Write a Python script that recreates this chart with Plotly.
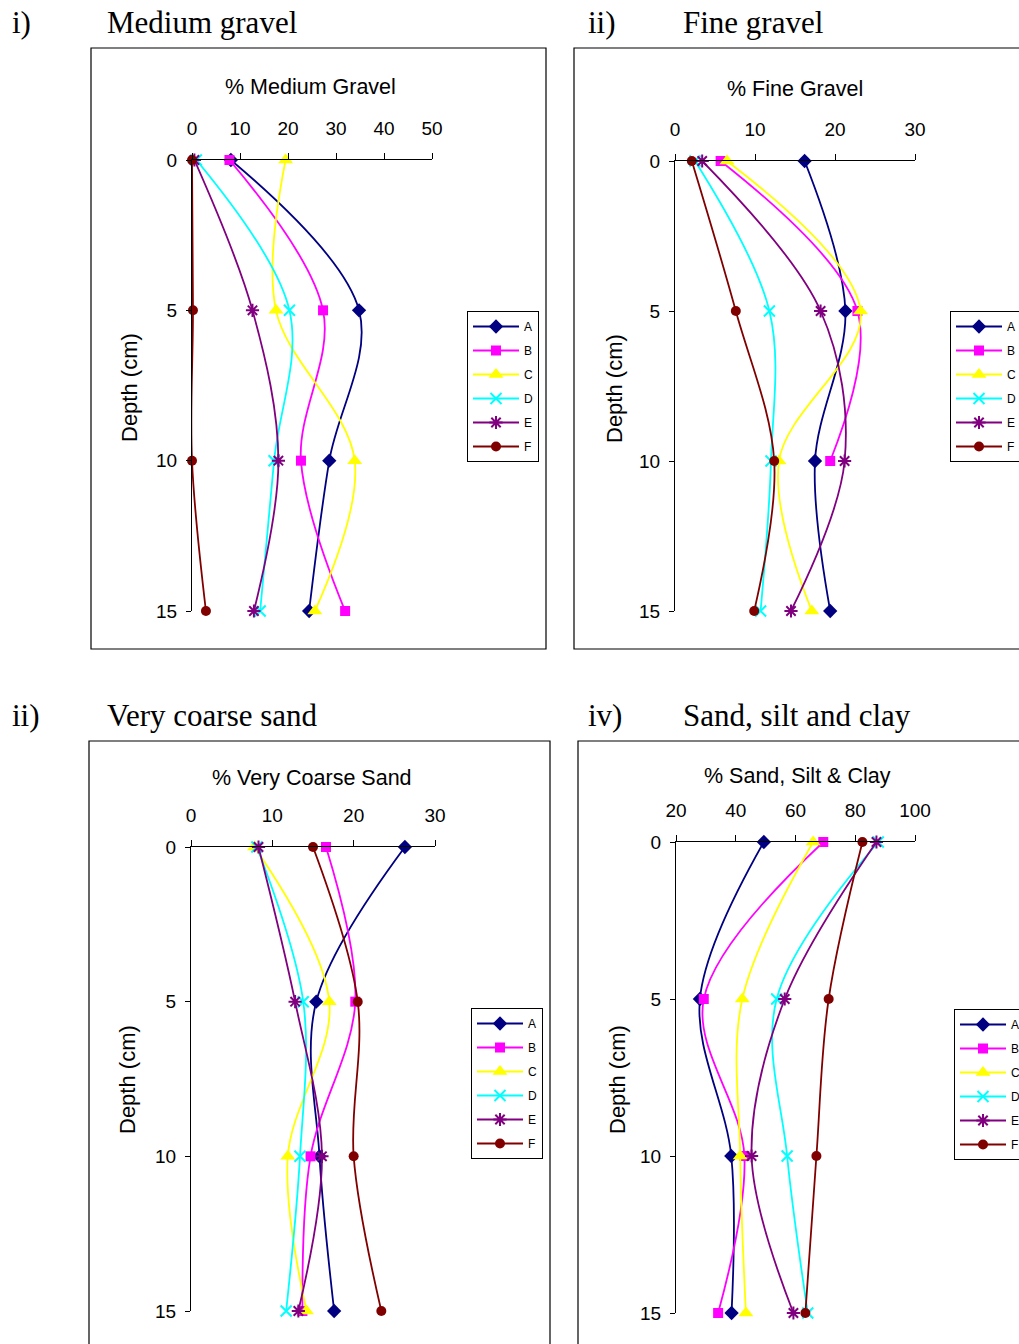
import plotly.graph_objects as go

W, H = 1019, 1344

depth = [0, 5, 10, 15]
series_names = ["A", "B", "C", "D", "E", "F"]

# i) % Medium Gravel
mg_A = [8.1, 34.8, 28.6, 24.4]
mg_B = [7.8, 27.3, 22.7, 31.9]
mg_C = [19.5, 17.5, 33.9, 25.6]
mg_D = [0.9, 20.3, 17.1, 14.2]
mg_E = [0.5, 12.6, 18.0, 12.9]
mg_F = [0.0, 0.2, 0.0, 2.9]

# ii) % Fine Gravel
fg_A = [16.2, 21.3, 17.5, 19.4]
fg_B = [5.7, 22.8, 19.4, None]
fg_C = [6.5, 23.2, 13.0, 17.1]
fg_D = [2.5, 11.8, 12.0, 10.7]
fg_E = [3.4, 18.2, 21.2, 14.5]
fg_F = [2.1, 7.6, 12.4, 9.9]

# iii) % Very Coarse Sand
vcs_A = [26.3, 15.4, 15.8, 17.6]
vcs_B = [16.6, 20.2, 14.7, 13.7]
vcs_C = [7.8, 17.0, 11.9, 14.2]
vcs_D = [8.1, 13.8, 13.4, 11.7]
vcs_E = [8.3, 12.8, 16.1, 13.2]
vcs_F = [15.0, 20.5, 20.0, 23.4]

# iv) % Sand, Silt & Clay
ssc_A = [49.4, 28.0, 38.5, 38.6]
ssc_B = [69.3, 29.3, 42.9, 34.1]
ssc_C = [65.9, 42.2, 41.5, 43.4]
ssc_D = [87.7, 53.7, 57.2, 64.1]
ssc_E = [87.1, 56.4, 45.3, 59.3]
ssc_F = [82.4, 71.1, 67.0, 63.3]

panel_data = [
    [mg_A, mg_B, mg_C, mg_D, mg_E, mg_F],
    [fg_A, fg_B, fg_C, fg_D, fg_E, fg_F],
    [vcs_A, vcs_B, vcs_C, vcs_D, vcs_E, vcs_F],
    [ssc_A, ssc_B, ssc_C, ssc_D, ssc_E, ssc_F],
]
panel_titles = ["% Medium Gravel", "% Fine Gravel", "% Very Coarse Sand", "% Sand, Silt & Clay"]
panel_ranges = [[0, 50], [0, 30], [0, 30], [20, 100]]
panel_ticks = [[0, 10, 20, 30, 40, 50], [0, 10, 20, 30], [0, 10, 20, 30], [20, 40, 60, 80, 100]]
panel_numerals = ["i)", "ii)", "ii)", "iv)"]
panel_names = ["Medium gravel", "Fine gravel", "Very coarse sand", "Sand, silt and clay"]

colors = ["#000080", "#FF00FF", "#FFFF00", "#00FFFF", "#800080", "#800000"]
symbols = ["diamond", "square", "triangle-up", "x-thin-open", "asterisk-open", "circle"]
msizes = [11, 10, 13, 11, 11, 10]

# layout geometry in pixels (left, right, top(depth 0), bottom(depth 15))
plot_px = [
    (192, 432, 160, 611),
    (675, 915, 161, 611),
    (191, 435, 847, 1311),
    (676, 915, 842, 1313),
]
box_px = [
    (91, 546, 48, 649),
    (574, 1030, 48, 649),
    (89, 550, 741, 1360),
    (578, 1030, 741, 1360),
]
title_px = [(310, 87), (795, 89), (312, 778), (797, 776)]
ylab_px = [(130, 388), (614, 389), (127, 1080), (617, 1080)]
legend_px = [(467, 311), (950, 311), (471, 1008), (954, 1009)]
numeral_px = [(10, 22), (586, 22), (10, 715), (586, 715)]
name_px = [(105, 22), (681, 22), (105, 715), (681, 715)]


def px(x):
    return x / W


def py(y):
    return 1 - y / H


fig = go.Figure()
layout = dict(
    width=W, height=H,
    margin=dict(l=0, r=0, t=0, b=0, autoexpand=False),
    paper_bgcolor="white", plot_bgcolor="rgba(0,0,0,0)",
    font=dict(family="Liberation Sans, Arial", color="black"),
    showlegend=True,
)
shapes = []
annotations = []

for p in range(4):
    suffix = "" if p == 0 else str(p + 1)
    xa = "x" + suffix
    ya = "y" + suffix
    leg = "legend" if p == 0 else "legend" + str(p + 1)
    for i, name in enumerate(series_names):
        fig.add_trace(go.Scatter(
            x=panel_data[p][i], y=depth, name=name,
            mode="lines+markers", xaxis=xa, yaxis=ya, legend=leg,
            legendgroup=f"p{p}_{name}",
            line=dict(color=colors[i], width=1.8, shape="spline", smoothing=1),
            marker=dict(symbol=symbols[i], size=msizes[i], color=colors[i],
                        line=dict(color=colors[i], width=2 if i in (3, 4) else 0)),
            cliponaxis=False,
        ))
    l, r, t, b = plot_px[p]
    layout["xaxis" + suffix] = dict(
        domain=[px(l), px(r)], range=panel_ranges[p], anchor=ya, side="top",
        tickvals=panel_ticks[p], showgrid=False, zeroline=False,
        showline=True, linecolor="black", linewidth=1,
        ticks="outside", ticklen=6, tickcolor="black",
        tickfont=dict(size=19, family="Liberation Sans, Arial"),
        ticklabelstandoff=10, fixedrange=True,
    )
    layout["yaxis" + suffix] = dict(
        domain=[py(b), py(t)], range=[15, 0], anchor=xa,
        tickvals=[0, 5, 10, 15], showgrid=False, zeroline=False,
        showline=True, linecolor="black", linewidth=1,
        ticks="outside", ticklen=5, tickcolor="black",
        tickfont=dict(size=19, family="Liberation Sans, Arial"),
        ticklabelstandoff=5, fixedrange=True,
    )
    lx, ly = legend_px[p]
    layout[leg] = dict(
        x=px(lx), y=py(ly), xanchor="left", yanchor="top",
        bgcolor="white", bordercolor="black", borderwidth=1,
        font=dict(size=12, family="Liberation Sans, Arial"),
        itemwidth=46, tracegroupgap=5, traceorder="grouped",
    )
    bl, br, bt, bb = box_px[p]
    shapes.append(dict(type="rect", xref="paper", yref="paper",
                       x0=px(bl), x1=px(br), y0=py(bb), y1=py(bt),
                       line=dict(color="black", width=1.2), layer="below"))
    tx, ty = title_px[p]
    annotations.append(dict(text=panel_titles[p], xref="paper", yref="paper",
                            x=px(tx), y=py(ty), xanchor="center", yanchor="middle",
                            showarrow=False, font=dict(size=21.5, family="Liberation Sans, Arial")))
    yx, yy = ylab_px[p]
    annotations.append(dict(text="Depth (cm)", xref="paper", yref="paper",
                            x=px(yx), y=py(yy), xanchor="center", yanchor="middle",
                            textangle=-90, showarrow=False,
                            font=dict(size=22, family="Liberation Sans, Arial")))
    nx, ny = numeral_px[p]
    annotations.append(dict(text=panel_numerals[p], xref="paper", yref="paper",
                            x=px(nx), y=py(ny), xanchor="left", yanchor="middle",
                            showarrow=False, font=dict(size=31, family="Liberation Serif, Times New Roman")))
    mx, my = name_px[p]
    annotations.append(dict(text=panel_names[p], xref="paper", yref="paper",
                            x=px(mx), y=py(my), xanchor="left", yanchor="middle",
                            showarrow=False, font=dict(size=31, family="Liberation Serif, Times New Roman")))

layout["shapes"] = shapes
layout["annotations"] = annotations
fig.update_layout(**layout)
fig.write_html("out.html")
